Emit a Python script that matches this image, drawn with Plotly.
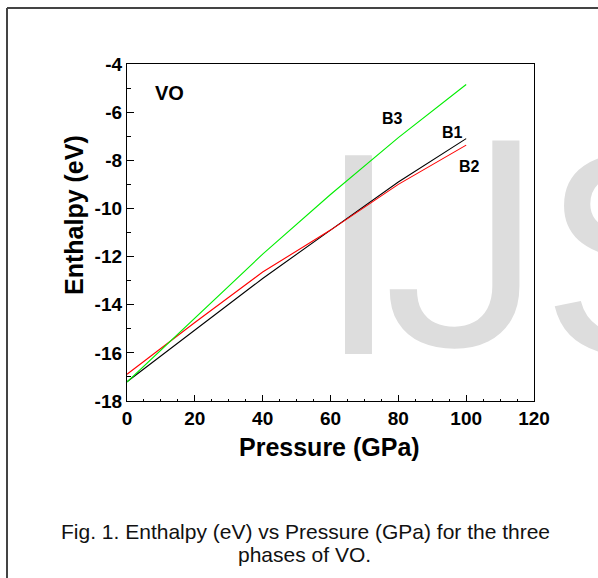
import plotly.graph_objects as go

# ---- data ----
pressure = [0, 20, 40, 60, 80, 100]
b1_enthalpy = [-17.20, -15.04, -12.91, -10.90, -8.90, -7.10]
b2_enthalpy = [-16.89, -14.74, -12.64, -10.90, -9.00, -7.37]
b3_enthalpy = [-17.21, -14.54, -11.90, -9.42, -7.06, -4.85]

x_ticks = [0, 20, 40, 60, 80, 100, 120]
x_tick_labels = ["0", "20", "40", "60", "80", "100", "120"]
y_ticks = [-18, -16, -14, -12, -10, -8, -6, -4]
y_tick_labels = ["-18", "-16", "-14", "-12", "-10", "-8", "-6", "-4"]

W, H = 598, 578
L, R, T, B = 127, 64, 64, 177
PW, PH = W - L - R, H - T - B


def px(x):
    return (x - L) / PW


def py(y):
    return (H - B - y) / PH


FONT = "Arial, Liberation Sans, sans-serif"

fig = go.Figure()
fig.add_trace(go.Scatter(x=pressure, y=b1_enthalpy, mode="lines",
                         line=dict(color="black", width=1.1), name="B1"))
fig.add_trace(go.Scatter(x=pressure, y=b2_enthalpy, mode="lines",
                         line=dict(color="#ff0000", width=1.1), name="B2"))
fig.add_trace(go.Scatter(x=pressure, y=b3_enthalpy, mode="lines",
                         line=dict(color="#00ee00", width=1.1), name="B3"))

axis_common = dict(showgrid=False, zeroline=False, showline=True, mirror=True,
                   linecolor="black", linewidth=1.3, ticks="inside",
                   tickcolor="black",
                   tickfont=dict(family=FONT, size=19, color="black", weight="bold"))

fig.update_xaxes(range=[0, 120], tickvals=x_ticks, ticktext=x_tick_labels,
                 ticklen=6, tickwidth=1.3,
                 minor=dict(dtick=5, ticks="inside", ticklen=2, tickcolor="black"),
                 **axis_common)
fig.update_yaxes(range=[-18, -4], tickvals=y_ticks, ticktext=y_tick_labels,
                 ticklen=7, tickwidth=1.3,
                 minor=dict(dtick=1, ticks="inside", ticklen=4, tickcolor="black"),
                 **axis_common)


def label(text, x, y, size, bold=True, angle=0, color="black"):
    f = dict(family=FONT, size=size, color=color)
    if bold:
        f["weight"] = "bold"
    return dict(text=text, x=px(x), y=py(y), xref="paper", yref="paper",
                xanchor="center", yanchor="middle", textangle=angle,
                showarrow=False, font=f)


annotations = [
    label("Pressure (GPa)", 329, 447, 25),
    label("Enthalpy (eV)", 74, 215, 25, angle=-90),
    label("VO", 169.5, 93.5, 20),
    label("B3", 392.5, 118.5, 16),
    label("B1", 452, 132.5, 16),
    label("B2", 469.5, 166.5, 16),
    label("Fig. 1. Enthalpy (eV) vs Pressure (GPa) for the three", 305.5, 531, 21,
          bold=False, color="#111111"),
    label("phases of VO.", 304, 554, 21, bold=False, color="#111111"),
]


def watermark_letter(ch, cx, family):
    # a transparent box whose label is one big grey letter, kept beneath the traces
    return dict(type="rect", xref="paper", yref="paper",
                x0=px(cx - 100), x1=px(cx + 100), y0=py(330), y1=py(123),
                line=dict(width=0), fillcolor="rgba(0,0,0,0)", layer="below",
                label=dict(text=ch, textposition="middle center",
                           font=dict(family=family, size=289, color="#dddddd")))


shapes = [
    watermark_letter("I", 358.5, FONT),
    watermark_letter("J", 462, "Roboto"),
    watermark_letter("S", 638, FONT),
    # outer frame
    dict(type="line", xref="paper", yref="paper", x0=px(7), x1=px(600),
         y0=py(8), y1=py(8), line=dict(color="#444444", width=2)),
    dict(type="line", xref="paper", yref="paper", x0=px(7), x1=px(7),
         y0=py(8), y1=py(580), line=dict(color="#444444", width=2)),
]

fig.update_layout(width=W, height=H, margin=dict(l=L, r=R, t=T, b=B),
                  paper_bgcolor="white", plot_bgcolor="white", showlegend=False,
                  annotations=annotations, shapes=shapes)

fig.write_html("out.html", config={"displayModeBar": False},
               post_script="document.body.style.margin='0';document.body.style.padding='0';")
